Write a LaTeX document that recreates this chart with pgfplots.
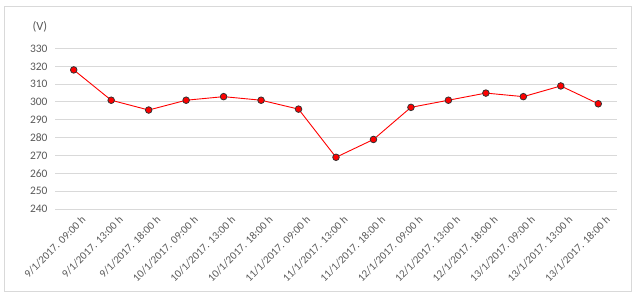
\documentclass[border=0pt]{standalone}
\usepackage{pgfplots}
\pgfplotsset{compat=1.18}
\usepackage{fontspec}
\setmainfont{Carlito}
\definecolor{txt}{HTML}{595959}
\definecolor{grd}{HTML}{D9D9D9}
\begin{document}
\begin{tikzpicture}
\useasboundingbox (0,0) rectangle (639bp,300bp);
\draw[grd, line width=0.8bp] (4.5bp,9bp) rectangle (631bp,294bp);
\begin{axis}[
  at={(55bp,91bp)}, anchor=south west,
  scale only axis, width=562bp, height=160.5bp,
  xmin=-0.5, xmax=14.5, ymin=240, ymax=330,
  ytick={240,250,...,330},
  xtick={0,...,14},
  xticklabels={{9/1/2017. 09:00 h},{9/1/2017. 13:00 h},{9/1/2017. 18:00 h},{10/1/2017. 09:00 h},{10/1/2017. 13:00 h},{10/1/2017. 18:00 h},{11/1/2017. 09:00 h},{11/1/2017. 13:00 h},{11/1/2017. 18:00 h},{12/1/2017. 09:00 h},{12/1/2017. 13:00 h},{12/1/2017. 18:00 h},{13/1/2017. 09:00 h},{13/1/2017. 13:00 h},{13/1/2017. 18:00 h}},
  axis line style={draw=none},
  major tick length=0pt,
  ymajorgrids, grid style={grd, line width=1bp},
  /pgf/number format/assume math mode=true,
  yticklabel style={font=\fontsize{11.5}{13}\selectfont, text=txt, xshift=-4bp},
  xticklabel style={font=\fontsize{11}{13}\selectfont, text=txt, rotate=45, anchor=north east, xshift=4bp, yshift=-6bp},
  clip=false,
]
\addplot[red, line width=0.9bp, mark=*, mark size=3.3bp, mark options={fill=red, draw=black!80, line width=0.8bp}]
coordinates {(0,318)(1,301)(2,295.5)(3,301)(4,303)(5,301)(6,296)(7,269)(8,279)(9,297)(10,301)(11,305)(12,303)(13,309)(14,299)};
\node[font=\fontsize{12.5}{14}\selectfont, text=txt] at (rel axis cs:-0.027,1.134) {(V)};
\end{axis}
\end{tikzpicture}
\end{document}
